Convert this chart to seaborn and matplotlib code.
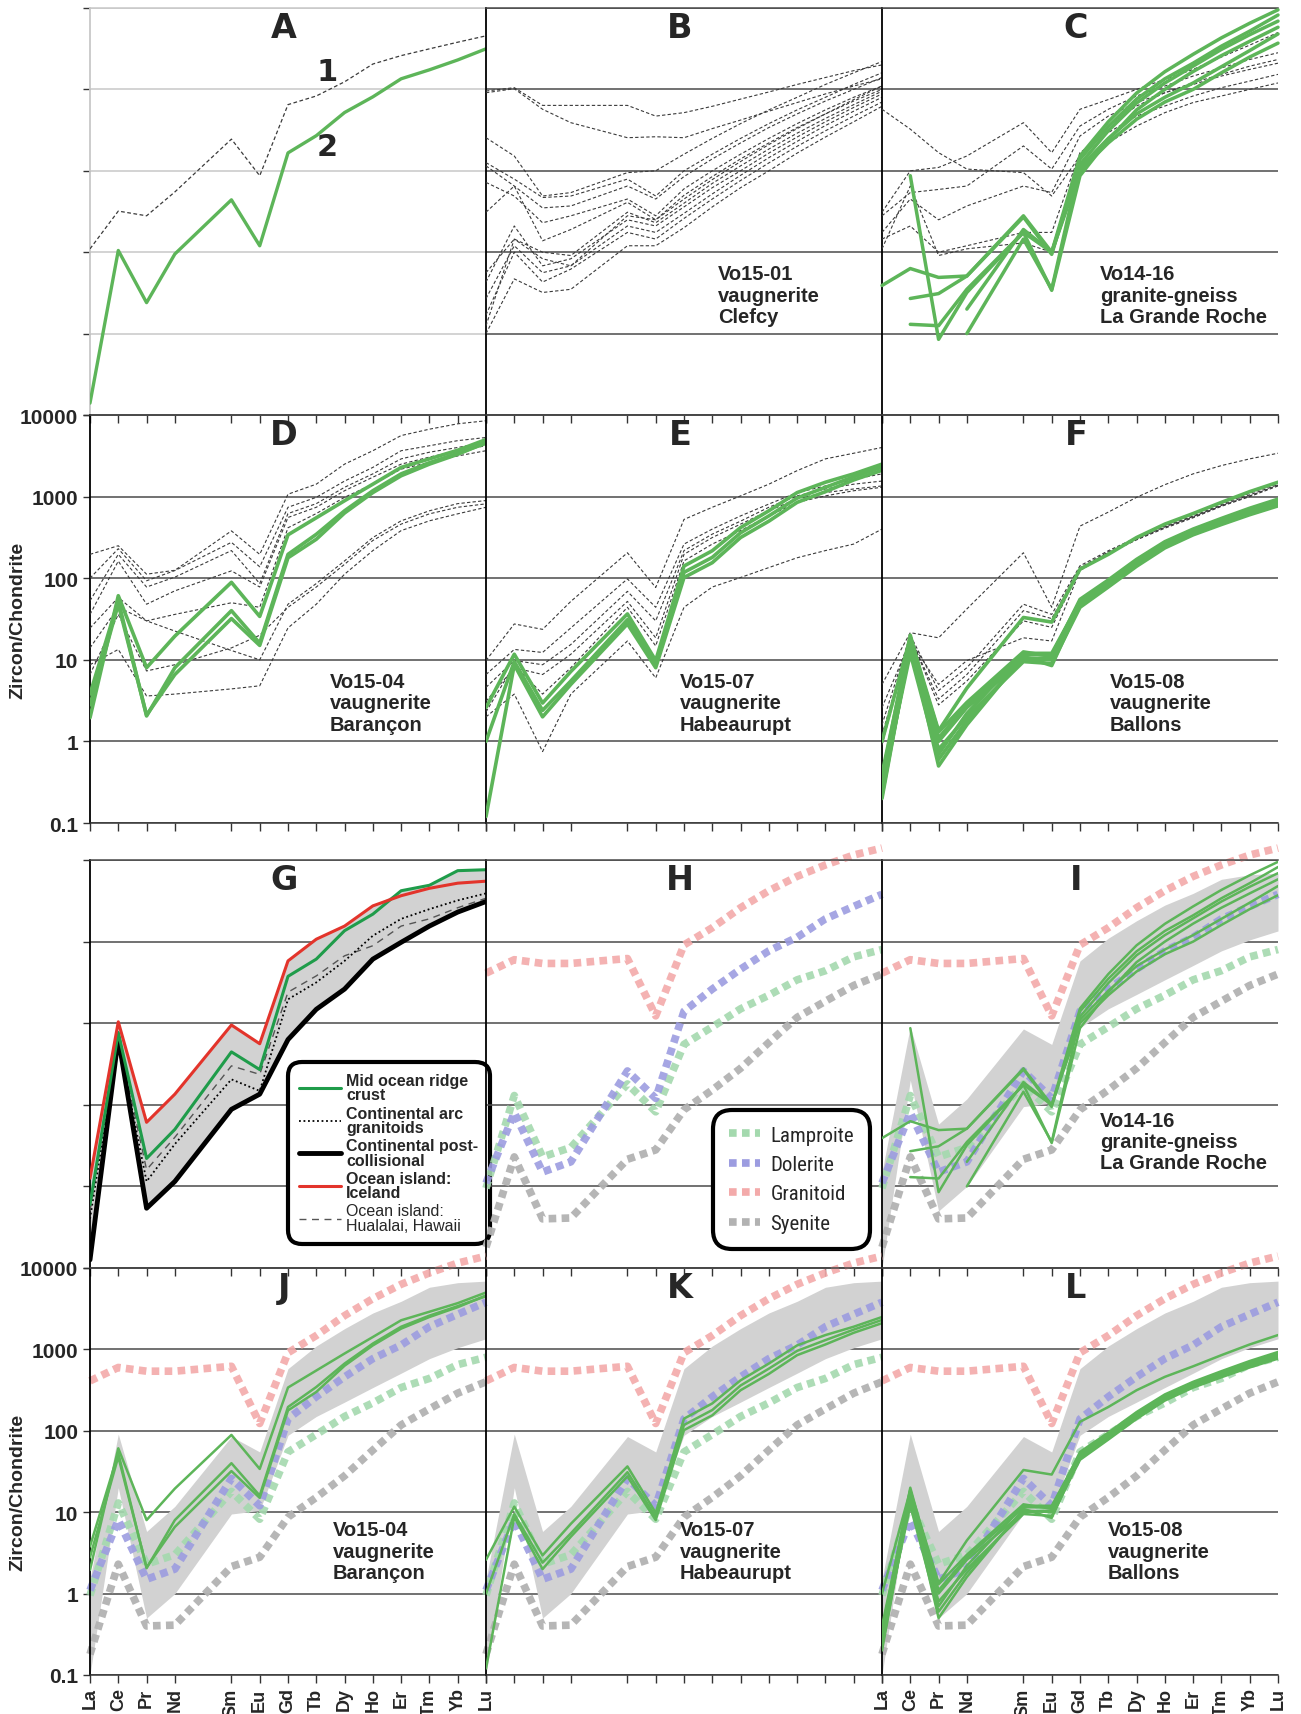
import numpy as np
import pandas as pd
import matplotlib
matplotlib.use('Agg')
import matplotlib.pyplot as plt
import seaborn as sns
from matplotlib.lines import Line2D
from matplotlib.ticker import FixedLocator, FixedFormatter, NullLocator
from matplotlib import font_manager

sns.set_theme(style='white')
plt.rcParams['font.family'] = ['Liberation Sans', 'DejaVu Sans']

nan = np.nan
ELEMENTS = ['La', 'Ce', 'Pr', 'Nd', 'Sm', 'Eu', 'Gd', 'Tb', 'Dy', 'Ho', 'Er', 'Tm', 'Yb', 'Lu']
ATOMIC_NUMBER = [57, 58, 59, 60, 62, 63, 64, 65, 66, 67, 68, 69, 70, 71]
Y_TICKS = [0.1, 1, 10, 100, 1000, 10000]
Y_TICK_LABELS = ['0.1', '1', '10', '100', '1000', '10000']

# ---------------- Panel A ----------------
A_LINE1 = [11, 32, 28, 55, 245, 87, 650, 830, 1240, 2050, 2600, 3150, 3800, 4550]
A_LINE2 = [0.14, 10.5, 2.4, 9.5, 44, 12, 166, 270, 520, 810, 1350, 1740, 2300, 3150]

# ---------------- Panel B (Vo15-01) ----------------
B_GRAY = [
    [955, 1050, 636, 636, 636, 470, 518, 620, 760, 930, 1150, 1400, 1700, 2000],
    [910, 1020, 570, 390, 255, 262, 255, 330, 420, 540, 690, 880, 1100, 1350],
    [255, 152, 49, 54, 95, 100, 160, 250, 380, 560, 800, 1150, 1600, 2200],
    [126, 79, 47, 49, 79, 49, 100, 160, 250, 380, 560, 800, 1150, 1600],
    [115, 65, 35, 37, 65, 45, 85, 140, 220, 340, 500, 720, 1000, 1400],
    [72, 49, 23, 28, 45, 28, 60, 100, 160, 250, 380, 560, 800, 1100],
    [31, 65, 13.8, 19, 41, 25, 50, 85, 140, 220, 340, 500, 720, 1000],
    [5.6, 14.5, 10, 9.1, 31, 23, 40, 70, 115, 185, 290, 440, 650, 950],
    [4.3, 21, 6.8, 8.3, 25, 21, 36, 62, 100, 165, 260, 400, 600, 880],
    [2.7, 12, 5.6, 6.8, 21, 17.5, 30, 52, 88, 145, 230, 360, 540, 800],
    [1.7, 10, 4.3, 6.2, 17.5, 14.5, 26, 45, 76, 125, 200, 310, 470, 700],
    [1.0, 4.7, 3.2, 3.5, 12, 12, 20, 36, 62, 100, 165, 260, 400, 620],
    [1.25, 14.5, 8.3, 6.8, 28, 25, 45, 78, 130, 210, 330, 500, 750, 1100],
]

# ---------------- Panel C / I (Vo14-16) ----------------
C_GRAY = [
    [570, 325, 167, 105, 95, 49, 152, 355, 625, 910, 1210, 1530, 1930, 2330],
    [31, 100, 110, 152, 390, 167, 570, 750, 1000, 1330, 1760, 2500, 3500, 5000],
    [28, 54, 59, 65, 202, 105, 355, 570, 830, 1100, 1460, 1840, 2330, 2820],
    [17.5, 45, 25, 37, 65, 54, 268, 470, 690, 910, 1150, 1460, 1760, 2100],
    [14.5, 21, 10, 12, 17.5, 17.5, 167, 295, 470, 625, 830, 1050, 1265, 1530],
    [11, 65, 9.1, 11, 13, 10, 115, 222, 355, 518, 690, 830, 1000, 1200],
]
C_GREEN = [
    [3.9, 6.3, 4.9, 5.1, 27, 9.4, 139, 350, 760, 1350, 2100, 3400, 5200, 8200],
    [nan, 87, 0.85, 3.2, 17.5, 3.4, 87, 240, 560, 1000, 1660, 2600, 3900, 5800],
    [nan, 2.7, 3.1, 5.1, 28, 10, 152, 400, 900, 1650, 2700, 4300, 6500, 9500],
    [nan, 1.3, 1.25, 3.5, 17.5, 10, 110, 250, 500, 800, 1200, 1900, 3000, 4800],
    [nan, nan, nan, 1.0, 14.5, 3.5, 120, 310, 680, 1200, 1930, 3100, 4700, 6900],
    [nan, nan, nan, 2.0, 19, 10, 100, 220, 430, 700, 1000, 1600, 2500, 3700],
]

# ---------------- Panel D / J (Vo15-04) ----------------
D_GRAY = [
    [196, 250, 112, 125, 380, 196, 1070, 1420, 2500, 3650, 5600, 6700, 7800, 8500],
    [100, 230, 93, 124, 275, 138, 740, 980, 1550, 2280, 3650, 4200, 4850, 5300],
    [53, 196, 78, 103, 218, 86, 620, 820, 1300, 1900, 2900, 3500, 4000, 4600],
    [36, 162, 48, 70, 123, 78, 555, 740, 1180, 1730, 2500, 3050, 3650, 4200],
    [24.5, 58, 30, 36, 50, 44, 415, 620, 980, 1420, 2170, 2630, 3150, 3650],
    [14, 44, 30, 22.5, 13, 10, 48, 86, 163, 315, 505, 670, 820, 895],
    [8.7, 13.4, 3.6, 3.8, 4.4, 4.8, 24.6, 48, 112, 218, 383, 505, 615, 740],
    [6.6, 36, 7.3, 8.7, 14, 20, 44, 78, 148, 290, 460, 615, 740, 815],
]
D_GREEN = [
    [1.95, 61, 8, 19.5, 89, 34, 340, 550, 890, 1420, 2280, 2900, 3700, 5000],
    [3.8, 53, 2.05, 8, 40, 16, 196, 345, 670, 1180, 1900, 2600, 3400, 4500],
    [2.8, 48, 2.1, 6.6, 32, 15, 178, 300, 630, 1120, 1800, 2500, 3300, 4600],
]

# ---------------- Panel E / K (Vo15-07) ----------------
E_GRAY = [
    [9.8, 27.5, 23.6, 52, 205, 77, 525, 740, 1020, 1420, 2080, 2900, 3400, 4000],
    [6.6, 13.4, 12.3, 24.6, 98, 44, 262, 400, 580, 810, 1120, 1350, 1630, 1900],
    [4.6, 9.8, 8.7, 15.4, 69, 30, 218, 347, 500, 740, 1020, 1240, 1420, 1550],
    [3.1, 8, 6.6, 11.7, 52, 18.6, 196, 315, 460, 670, 940, 1120, 1240, 1350],
    [2.0, 3.8, 0.75, 3.8, 17, 6.0, 44, 78, 102, 135, 178, 218, 262, 400],
    [2.3, 8.7, 3.8, 8, 44, 14.8, 163, 262, 383, 580, 850, 1020, 1180, 1300],
]
E_GREEN = [
    [2.6, 11.7, 2.95, 7.2, 36.5, 9.8, 141, 217, 417, 670, 1120, 1500, 1900, 2500],
    [0.12, 8.7, 2.0, 5.0, 27.5, 8, 102, 155, 315, 500, 850, 1150, 1600, 2100],
    [1.0, 9.5, 2.4, 5.5, 31, 8.8, 118, 180, 360, 580, 960, 1300, 1750, 2300],
]

# ---------------- Panel F / L (Vo15-08) ----------------
F_GRAY = [
    [5.0, 21.5, 18.6, 42, 205, 44, 435, 645, 980, 1400, 1900, 2400, 2900, 3400],
    [1.6, 20, 4.2, 8, 48, 36, 142, 217, 315, 437, 580, 800, 1100, 1450],
    [1.2, 18.6, 3.3, 6.6, 40, 32, 135, 210, 305, 425, 570, 780, 1050, 1400],
    [2.6, 17, 5, 9.8, 18.6, 17, 124, 200, 295, 410, 550, 760, 1000, 1350],
    [0.9, 19, 2.8, 5.5, 30, 25, 130, 205, 300, 420, 560, 770, 1020, 1380],
]
F_GREEN = [
    [1.0, 18.6, 1.35, 4.5, 33, 29, 129, 196, 315, 460, 620, 850, 1150, 1500],
    [0.2, 16, 0.5, 1.6, 11, 8.5, 48, 85, 155, 260, 370, 500, 660, 850],
    [0.3, 19, 0.7, 2.2, 12, 12, 52, 92, 165, 270, 390, 520, 690, 900],
    [0.25, 14, 1.0, 2.6, 10, 10.5, 46, 80, 148, 245, 350, 470, 630, 800],
    [0.4, 17, 1.3, 3.0, 12.5, 11, 55, 95, 170, 280, 400, 540, 720, 930],
    [0.22, 15, 0.8, 2.0, 9.5, 9, 44, 78, 140, 235, 340, 455, 600, 770],
    [0.35, 20, 1.1, 2.8, 11.5, 11.5, 50, 88, 160, 265, 380, 510, 680, 870],
    [0.28, 12, 0.6, 1.8, 10.5, 10, 47, 83, 150, 250, 355, 480, 640, 820],
]

# ---------------- Panel G (reference zircon fields) ----------------
G_MORB = [0.6, 77, 2.2, 5.0, 44.5, 27, 375, 610, 1360, 2170, 4200, 4900, 7400, 7600]
G_ICELAND = [1.26, 104, 6.1, 13.5, 95, 56, 580, 1070, 1550, 2740, 3650, 4500, 5200, 5500]
G_ARC = [0.4, 60, 1.15, 3.3, 20.5, 14.8, 196, 316, 580, 1180, 1900, 2500, 3200, 3900]
G_POSTCOL = [0.126, 66, 0.54, 1.15, 8.8, 13.5, 63, 148, 262, 610, 980, 1550, 2300, 3100]
G_HAWAII = [0.5, 65, 1.6, 4, 30, 23.6, 240, 380, 670, 890, 1550, 1900, 2600, 3400]

# ---------------- Panel H (rock-type zircon averages) ----------------
LAMPROITE = [0.95, 13, 2.3, 3.0, 18, 8.2, 55, 90, 150, 220, 340, 440, 650, 800]
DOLERITE = [1.1, 8, 1.5, 2.0, 26, 12, 140, 262, 460, 770, 1130, 1900, 2700, 3800]
GRANITOID = [410, 600, 540, 540, 620, 123, 910, 1480, 2600, 4200, 6300, 8700, 11500, 14000]
SYENITE = [0.18, 2.3, 0.4, 0.41, 2.15, 2.8, 8.7, 15.2, 28, 58, 118, 186, 290, 400]

# ---------------- Grey field in I-L ----------------
BAND_HI = [1.5, 91, 5.8, 11.8, 85, 55, 580, 1100, 1800, 2800, 3900, 5800, 6600, 6900]
BAND_LO = [0.1, 20, 0.5, 1.0, 9.5, 10.5, 88, 150, 225, 340, 510, 770, 1050, 1350]

PANEL_LETTERS = ['A', 'B', 'C', 'D', 'E', 'F', 'G', 'H', 'I', 'J', 'K', 'L']
SAMPLE_TEXT = {
    'B': 'Vo15-01\nvaugnerite\nClefcy',
    'C': 'Vo14-16\ngranite-gneiss\nLa Grande Roche',
    'D': 'Vo15-04\nvaugnerite\nBarançon',
    'E': 'Vo15-07\nvaugnerite\nHabeaurupt',
    'F': 'Vo15-08\nvaugnerite\nBallons',
    'I': 'Vo14-16\ngranite-gneiss\nLa Grande Roche',
    'J': 'Vo15-04\nvaugnerite\nBarançon',
    'K': 'Vo15-07\nvaugnerite\nHabeaurupt',
    'L': 'Vo15-08\nvaugnerite\nBallons',
}
TEXT_POS = {'B': (0.586, 0.37), 'C': (0.55, 0.37), 'D': (0.606, 0.37), 'E': (0.49, 0.37),
            'F': (0.576, 0.37), 'I': (0.55, 0.385), 'J': (0.613, 0.38), 'K': (0.49, 0.38),
            'L': (0.57, 0.38)}

GREEN = '#5db559'
DASH_GREY = '#3a3a3a'
MORB_C = '#1f9c4a'
RED = '#e3342b'
C_LAMP = '#a4d9ae'
C_DOL = '#9c9ce0'
C_GRAN = '#f3aaaa'
C_SYEN = '#b2b2b2'
DOT = (0, (1, 0.7))

# condensed font for the rock-type legend, if one is installed
_installed = {f.name for f in font_manager.fontManager.ttflist}
NARROW = [f for f in ['Liberation Sans Narrow', 'DejaVu Sans Condensed', 'Roboto Condensed',
                      'Open Sans Condensed'] if f in _installed]
H_FONT = (NARROW + ['Liberation Sans', 'DejaVu Sans'])
H_SIZE = 15 if NARROW else 13


def long_df(lines):
    rows = []
    for i, vals in enumerate(lines):
        for z, v in zip(ATOMIC_NUMBER, vals):
            rows.append((i, z, v))
    return pd.DataFrame(rows, columns=['sample', 'z', 'value']).dropna()


def add_lines(ax, lines, color, lw, ls='-', zorder=3, clip=True, alpha=1.0):
    df = long_df(lines)
    n0 = len(ax.lines)
    sns.lineplot(data=df, x='z', y='value', units='sample', estimator=None,
                 color=color, linewidth=lw, linestyle=ls, alpha=alpha,
                 zorder=zorder, legend=False, ax=ax, sort=True)
    for ln in ax.lines[n0:]:
        ln.set_clip_on(clip)
        ln.set_dash_capstyle('butt')
    ax.set_xlabel('')
    ax.set_ylabel('')


W, H = 1301, 1715
fig = plt.figure(figsize=(W / 100, H / 100), dpi=100)
COL_LEFT = [90, 486, 882]
COL_W = 396
ROW_TOP = [9, 416, 861, 1269]
ROW_H = [407, 408, 408, 407]

axes = []
for r in range(4):
    for c in range(3):
        ax = fig.add_axes([COL_LEFT[c] / W, 1 - (ROW_TOP[r] + ROW_H[r]) / H,
                           COL_W / W, ROW_H[r] / H])
        axes.append(ax)

for idx, ax in enumerate(axes):
    r, c = divmod(idx, 3)
    letter = PANEL_LETTERS[idx]
    ax.set_yscale('log')
    ax.set_xlim(57, 71)
    ax.set_ylim(0.1, 10000)
    ax.patch.set_alpha(0)
    ax.set_xticks(ATOMIC_NUMBER)
    ax.yaxis.set_major_locator(FixedLocator(Y_TICKS))
    ax.yaxis.set_minor_locator(NullLocator())
    gc = '#c8c8c8' if letter == 'A' else '#4a4a4a'
    ax.grid(axis='y', color=gc, lw=1.1)
    ax.grid(axis='x', visible=False)
    ax.set_axisbelow(True)
    ax.spines['right'].set_visible(False)
    ax.spines['top'].set_color(gc)
    ax.spines['top'].set_linewidth(1.1)
    ax.spines['left'].set_color('#c8c8c8' if letter == 'A' else 'black')
    ax.spines['left'].set_linewidth(1.3)
    ax.spines['bottom'].set_color('#333333')
    ax.spines['bottom'].set_linewidth(1.1)
    ax.tick_params(axis='x', direction='out', length=6, width=1, color='#333333',
                   bottom=True, top=False)
    if r == 3 and c in (0, 2):
        ax.set_xticklabels(ELEMENTS, rotation=90, fontsize=13, fontweight='bold')
        ax.tick_params(axis='x', pad=3)
    else:
        ax.tick_params(axis='x', labelbottom=False)
    if c == 0:
        ax.tick_params(axis='y', direction='out', length=5, width=1, color='#333333', left=True)
        if r in (1, 3):
            ax.yaxis.set_major_formatter(FixedFormatter(Y_TICK_LABELS))
            for t in ax.get_yticklabels():
                t.set_fontsize(15)
                t.set_fontweight('bold')
        else:
            ax.tick_params(axis='y', labelleft=False)
    else:
        ax.tick_params(axis='y', left=False, labelleft=False)

    ax.text(0.49, 0.953, letter, transform=ax.transAxes, ha='center', va='center',
            fontsize=24, fontweight='heavy', family='DejaVu Sans', zorder=10)
    if letter in SAMPLE_TEXT:
        tx, ty = TEXT_POS[letter]
        ax.text(tx, ty, SAMPLE_TEXT[letter], transform=ax.transAxes, ha='left', va='top',
                fontsize=14.5, fontweight='bold', linespacing=1.15, zorder=10)

# ---- Row 1 ----
axA, axB, axC, axD, axE, axF, axG, axH, axI, axJ, axK, axL = axes
add_lines(axA, [A_LINE1], DASH_GREY, 0.9, ls=(0, (3, 2)))
add_lines(axA, [A_LINE2], GREEN, 2.4)
axA.text(0.60, 0.845, '1', transform=axA.transAxes, ha='center', va='center',
         fontsize=22, fontweight='heavy', family='DejaVu Sans')
axA.text(0.60, 0.66, '2', transform=axA.transAxes, ha='center', va='center',
         fontsize=22, fontweight='heavy', family='DejaVu Sans')

add_lines(axB, B_GRAY, DASH_GREY, 0.8, ls=(0, (3, 2)))
add_lines(axC, C_GRAY, DASH_GREY, 0.8, ls=(0, (3, 2)))
add_lines(axC, C_GREEN, GREEN, 2.5, clip=False)

# ---- Row 2 ----
add_lines(axD, D_GRAY, DASH_GREY, 0.8, ls=(0, (3, 2)))
add_lines(axD, D_GREEN, GREEN, 2.6)
add_lines(axE, E_GRAY, DASH_GREY, 0.8, ls=(0, (3, 2)))
add_lines(axE, E_GREEN, GREEN, 2.6)
add_lines(axF, F_GRAY, DASH_GREY, 0.8, ls=(0, (3, 2)))
add_lines(axF, F_GREEN, GREEN, 2.6)

# ---- Row 3: G ----
g_stack = np.array([G_MORB, G_ICELAND, G_ARC, G_POSTCOL, G_HAWAII])
axG.fill_between(ATOMIC_NUMBER, g_stack.min(axis=0), g_stack.max(axis=0),
                 color='#d2d2d2', lw=0, zorder=1)
add_lines(axG, [G_HAWAII], '#555555', 1.0, ls=(0, (5, 4)), zorder=3)
add_lines(axG, [G_ARC], 'black', 1.3, ls=(0, (1, 1.5)), zorder=3)
add_lines(axG, [G_POSTCOL], 'black', 3.5, zorder=3)
add_lines(axG, [G_MORB], MORB_C, 2.2, zorder=4)
add_lines(axG, [G_ICELAND], RED, 2.2, zorder=4)

g_handles = [Line2D([], [], color=MORB_C, lw=2.2),
             Line2D([], [], color='black', lw=1.3, ls=(0, (1, 1.5))),
             Line2D([], [], color='black', lw=3.5),
             Line2D([], [], color=RED, lw=2.2),
             Line2D([], [], color='#555555', lw=1.0, ls=(0, (5, 4)))]
g_labels = ['Mid ocean ridge\ncrust', 'Continental arc\ngranitoids',
            'Continental post-\ncollisional', 'Ocean island:\nIceland',
            'Ocean island:\nHualalai, Hawaii']
legG = axG.legend(g_handles, g_labels, loc='upper left', bbox_to_anchor=(0.49, 0.515),
                  prop={'weight': 'bold', 'size': 11.5}, handlelength=2.6,
                  labelspacing=0.2, borderpad=0.45, handletextpad=0.35,
                  frameon=True, fancybox=True, framealpha=1, edgecolor='black')
legG.get_frame().set_linewidth(3)
legG.get_frame().set_boxstyle('round', pad=0.25, rounding_size=0.9)
for t in legG.get_texts():
    t.set_linespacing(0.95)
legG.get_texts()[4].set_fontweight('normal')
legG.set_zorder(20)


def draw_refs(ax):
    add_lines(ax, [SYENITE], C_SYEN, 5.5, ls=DOT, zorder=2, clip=False, alpha=0.95)
    add_lines(ax, [LAMPROITE], C_LAMP, 5.5, ls=DOT, zorder=2, clip=False, alpha=0.9)
    add_lines(ax, [DOLERITE], C_DOL, 5.5, ls=DOT, zorder=2, clip=False, alpha=0.9)
    add_lines(ax, [GRANITOID], C_GRAN, 5.5, ls=DOT, zorder=2, clip=False, alpha=0.9)


draw_refs(axH)
h_handles = [Line2D([], [], color=C_LAMP, lw=5.5, ls=DOT),
             Line2D([], [], color=C_DOL, lw=5.5, ls=DOT),
             Line2D([], [], color=C_GRAN, lw=5.5, ls=DOT),
             Line2D([], [], color=C_SYEN, lw=5.5, ls=DOT)]
legH = axH.legend(h_handles, ['Lamproite', 'Dolerite', 'Granitoid', 'Syenite'],
                  loc='upper left', bbox_to_anchor=(0.56, 0.40),
                  prop={'family': H_FONT, 'size': H_SIZE},
                  handlelength=1.5, labelspacing=0.5, borderpad=0.5, handletextpad=0.5,
                  frameon=True, fancybox=True, framealpha=1, edgecolor='black')
legH.get_frame().set_linewidth(3)
legH.get_frame().set_boxstyle('round', pad=0.25, rounding_size=0.9)
legH.set_zorder(20)

# ---- I-L ----
for ax, greens in [(axI, C_GREEN), (axJ, D_GREEN), (axK, E_GREEN), (axL, F_GREEN)]:
    ax.fill_between(ATOMIC_NUMBER, BAND_LO, BAND_HI, color='#d2d2d2', lw=0, zorder=1)
    draw_refs(ax)
    add_lines(ax, greens, GREEN, 1.8, zorder=4)

# y labels
for ax, yy in [(axD, 0.5), (axG, 0.5), (axJ, 0.45)]:
    ax.set_ylabel('Zircon/Chondrite', fontsize=14, fontweight='bold')
    ax.yaxis.set_label_coords(-0.16, yy)

fig.savefig('out.png', dpi=100)
